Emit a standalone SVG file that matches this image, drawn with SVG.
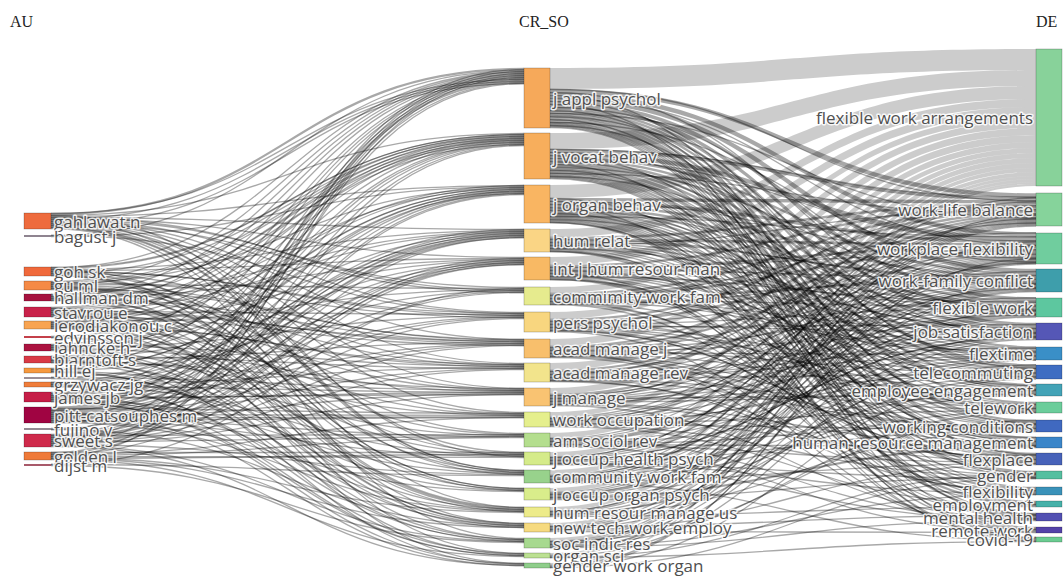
<svg xmlns="http://www.w3.org/2000/svg" width="1064" height="576" viewBox="0 0 1064 576">
<style>
.rb{fill:#000;fill-opacity:.2;stroke:none}
.lk{fill:none;stroke:#000;stroke-opacity:.34}
.w1{stroke-width:1.3}.w2{stroke-width:2.3}.w3{stroke-width:3.3}.w4{stroke-width:4.3}
.nd{stroke:#000;stroke-opacity:.35;stroke-width:.6}
.th{stroke:none}
.lb{font-family:"Open Sans","DejaVu Sans",sans-serif;font-size:17px;fill:#505050;stroke:#fff;stroke-width:3;stroke-opacity:.85;stroke-linejoin:round;paint-order:stroke;dominant-baseline:central}
.r{text-anchor:end}
.hd{font-family:"Liberation Serif","Times New Roman",serif;font-size:16px;fill:#222}
</style>
<rect width="1064" height="576" fill="#fff"/>
<g id="headers">
<text class="hd" x="10" y="27">AU</text>
<text class="hd" x="519" y="27">CR_SO</text>
<text class="hd" x="1036" y="27">DE</text>
</g>
<g id="connectors">
<g class="rb">
<path d="M550,68C793,68 793,49 1036,49L1036,70C793,70 793,89 550,89Z"/>
<path d="M550,133C793,133 793,70 1036,70L1036,86C793,86 793,149 550,149Z"/>
<path d="M550,185C793,185 793,86 1036,86L1036,99C793,99 793,198 550,198Z"/>
<path d="M550,229C793,229 793,99 1036,99L1036,107C793,107 793,237 550,237Z"/>
<path d="M550,257C793,257 793,107 1036,107L1036,115C793,115 793,265 550,265Z"/>
<path d="M550,287C793,287 793,115 1036,115L1036,121C793,121 793,293 550,293Z"/>
<path d="M550,312C793,312 793,121 1036,121L1036,128C793,128 793,319 550,319Z"/>
<path d="M550,339C793,339 793,128 1036,128L1036,135C793,135 793,346 550,346Z"/>
<path d="M550,363C793,363 793,135 1036,135L1036,142C793,142 793,370 550,370Z"/>
<path d="M550,388C793,388 793,142 1036,142L1036,148C793,148 793,394 550,394Z"/>
<path d="M550,412C793,412 793,148 1036,148L1036,153C793,153 793,417 550,417Z"/>
<path d="M550,433C793,433 793,153 1036,153L1036,158C793,158 793,438 550,438Z"/>
<path d="M550,452C793,452 793,158 1036,158L1036,163C793,163 793,457 550,457Z"/>
<path d="M550,470C793,470 793,163 1036,163L1036,168C793,168 793,475 550,475Z"/>
<path d="M550,488C793,488 793,168 1036,168L1036,172C793,172 793,492 550,492Z"/>
<path d="M550,507C793,507 793,172 1036,172L1036,176C793,176 793,511 550,511Z"/>
<path d="M550,523C793,523 793,176 1036,176L1036,179C793,179 793,526 550,526Z"/>
<path d="M550,538C793,538 793,179 1036,179L1036,182C793,182 793,541 550,541Z"/>
<path d="M550,553C793,553 793,182 1036,182L1036,184C793,184 793,555 550,555Z"/>
<path d="M550,563C793,563 793,184 1036,184L1036,186C793,186 793,565 550,565Z"/>
</g>
<g class="lk w2">
<path d="M51,214C288,214 288,69 524,69"/>
<path d="M51,408C288,408 288,81 524,81"/>
</g>
<g class="lk w1">
<path d="M51,215.5C288,215.5 288,133.5 524,133.5"/>
<path d="M51,216.5C288,216.5 288,185.5 524,185.5"/>
<path d="M51,217.5C288,217.5 288,229.5 524,229.5"/>
<path d="M51,218.5C288,218.5 288,257.5 524,257.5"/>
<path d="M51,219.5C288,219.5 288,287.5 524,287.5"/>
<path d="M51,220.5C288,220.5 288,312.5 524,312.5"/>
<path d="M51,221.5C288,221.5 288,339.5 524,339.5"/>
<path d="M51,222.5C288,222.5 288,363.5 524,363.5"/>
<path d="M51,223.5C288,223.5 288,388.5 524,388.5"/>
<path d="M51,224.5C288,224.5 288,412.5 524,412.5"/>
<path d="M51,225.5C288,225.5 288,452.5 524,452.5"/>
<path d="M51,226.5C288,226.5 288,470.5 524,470.5"/>
<path d="M51,227.5C288,227.5 288,507.5 524,507.5"/>
<path d="M51,228.5C288,228.5 288,538.5 524,538.5"/>
<path d="M51,235.5C288,235.5 288,70.5 524,70.5"/>
<path d="M51,236.5C288,236.5 288,186.5 524,186.5"/>
<path d="M51,267.5C288,267.5 288,71.5 524,71.5"/>
<path d="M51,268.5C288,268.5 288,134.5 524,134.5"/>
<path d="M51,269.5C288,269.5 288,230.5 524,230.5"/>
<path d="M51,270.5C288,270.5 288,258.5 524,258.5"/>
<path d="M51,271.5C288,271.5 288,313.5 524,313.5"/>
<path d="M51,272.5C288,272.5 288,364.5 524,364.5"/>
<path d="M51,273.5C288,273.5 288,433.5 524,433.5"/>
<path d="M51,274.5C288,274.5 288,488.5 524,488.5"/>
<path d="M51,275.5C288,275.5 288,523.5 524,523.5"/>
<path d="M51,281.5C288,281.5 288,72.5 524,72.5"/>
<path d="M51,282.5C288,282.5 288,135.5 524,135.5"/>
<path d="M51,283.5C288,283.5 288,187.5 524,187.5"/>
<path d="M51,284.5C288,284.5 288,288.5 524,288.5"/>
<path d="M51,285.5C288,285.5 288,340.5 524,340.5"/>
<path d="M51,286.5C288,286.5 288,389.5 524,389.5"/>
<path d="M51,287.5C288,287.5 288,413.5 524,413.5"/>
<path d="M51,288.5C288,288.5 288,471.5 524,471.5"/>
<path d="M51,289.5C288,289.5 288,553.5 524,553.5"/>
<path d="M51,294.5C288,294.5 288,73.5 524,73.5"/>
<path d="M51,295.5C288,295.5 288,136.5 524,136.5"/>
<path d="M51,296.5C288,296.5 288,231.5 524,231.5"/>
<path d="M51,297.5C288,297.5 288,259.5 524,259.5"/>
<path d="M51,298.5C288,298.5 288,365.5 524,365.5"/>
<path d="M51,299.5C288,299.5 288,453.5 524,453.5"/>
<path d="M51,300.5C288,300.5 288,508.5 524,508.5"/>
<path d="M51,307.5C288,307.5 288,74.5 524,74.5"/>
<path d="M51,308.5C288,308.5 288,137.5 524,137.5"/>
<path d="M51,309.5C288,309.5 288,188.5 524,188.5"/>
<path d="M51,310.5C288,310.5 288,232.5 524,232.5"/>
<path d="M51,311.5C288,311.5 288,314.5 524,314.5"/>
<path d="M51,312.5C288,312.5 288,341.5 524,341.5"/>
<path d="M51,313.5C288,313.5 288,390.5 524,390.5"/>
<path d="M51,314.5C288,314.5 288,434.5 524,434.5"/>
<path d="M51,315.5C288,315.5 288,524.5 524,524.5"/>
<path d="M51,316.5C288,316.5 288,563.5 524,563.5"/>
<path d="M51,321.5C288,321.5 288,75.5 524,75.5"/>
<path d="M51,322.5C288,322.5 288,138.5 524,138.5"/>
<path d="M51,323.5C288,323.5 288,260.5 524,260.5"/>
<path d="M51,324.5C288,324.5 288,289.5 524,289.5"/>
<path d="M51,325.5C288,325.5 288,366.5 524,366.5"/>
<path d="M51,326.5C288,326.5 288,414.5 524,414.5"/>
<path d="M51,327.5C288,327.5 288,489.5 524,489.5"/>
<path d="M51,328.5C288,328.5 288,539.5 524,539.5"/>
<path d="M51,336.5C288,336.5 288,139.5 524,139.5"/>
<path d="M51,337.5C288,337.5 288,454.5 524,454.5"/>
<path d="M51,344.5C288,344.5 288,76.5 524,76.5"/>
<path d="M51,345.5C288,345.5 288,189.5 524,189.5"/>
<path d="M51,346.5C288,346.5 288,233.5 524,233.5"/>
<path d="M51,347.5C288,347.5 288,315.5 524,315.5"/>
<path d="M51,348.5C288,348.5 288,391.5 524,391.5"/>
<path d="M51,349.5C288,349.5 288,472.5 524,472.5"/>
<path d="M51,350.5C288,350.5 288,554.5 524,554.5"/>
<path d="M51,356.5C288,356.5 288,77.5 524,77.5"/>
<path d="M51,357.5C288,357.5 288,140.5 524,140.5"/>
<path d="M51,358.5C288,358.5 288,261.5 524,261.5"/>
<path d="M51,359.5C288,359.5 288,342.5 524,342.5"/>
<path d="M51,360.5C288,360.5 288,415.5 524,415.5"/>
<path d="M51,361.5C288,361.5 288,509.5 524,509.5"/>
<path d="M51,362.5C288,362.5 288,564.5 524,564.5"/>
<path d="M51,368.5C288,368.5 288,78.5 524,78.5"/>
<path d="M51,369.5C288,369.5 288,190.5 524,190.5"/>
<path d="M51,370.5C288,370.5 288,290.5 524,290.5"/>
<path d="M51,371.5C288,371.5 288,435.5 524,435.5"/>
<path d="M51,372.5C288,372.5 288,525.5 524,525.5"/>
<path d="M51,377.5C288,377.5 288,234.5 524,234.5"/>
<path d="M51,378.5C288,378.5 288,490.5 524,490.5"/>
<path d="M51,382.5C288,382.5 288,141.5 524,141.5"/>
<path d="M51,383.5C288,383.5 288,262.5 524,262.5"/>
<path d="M51,384.5C288,384.5 288,367.5 524,367.5"/>
<path d="M51,385.5C288,385.5 288,455.5 524,455.5"/>
<path d="M51,386.5C288,386.5 288,540.5 524,540.5"/>
<path d="M51,392.5C288,392.5 288,79.5 524,79.5"/>
<path d="M51,393.5C288,393.5 288,142.5 524,142.5"/>
<path d="M51,394.5C288,394.5 288,191.5 524,191.5"/>
<path d="M51,395.5C288,395.5 288,235.5 524,235.5"/>
<path d="M51,396.5C288,396.5 288,316.5 524,316.5"/>
<path d="M51,397.5C288,397.5 288,343.5 524,343.5"/>
<path d="M51,398.5C288,398.5 288,392.5 524,392.5"/>
<path d="M51,399.5C288,399.5 288,473.5 524,473.5"/>
<path d="M51,400.5C288,400.5 288,510.5 524,510.5"/>
<path d="M51,401.5C288,401.5 288,555.5 524,555.5"/>
<path d="M51,409.5C288,409.5 288,143.5 524,143.5"/>
<path d="M51,410.5C288,410.5 288,192.5 524,192.5"/>
<path d="M51,411.5C288,411.5 288,236.5 524,236.5"/>
<path d="M51,412.5C288,412.5 288,263.5 524,263.5"/>
<path d="M51,413.5C288,413.5 288,291.5 524,291.5"/>
<path d="M51,414.5C288,414.5 288,317.5 524,317.5"/>
<path d="M51,415.5C288,415.5 288,344.5 524,344.5"/>
<path d="M51,416.5C288,416.5 288,368.5 524,368.5"/>
<path d="M51,417.5C288,417.5 288,393.5 524,393.5"/>
<path d="M51,418.5C288,418.5 288,416.5 524,416.5"/>
<path d="M51,419.5C288,419.5 288,436.5 524,436.5"/>
<path d="M51,420.5C288,420.5 288,456.5 524,456.5"/>
<path d="M51,421.5C288,421.5 288,491.5 524,491.5"/>
<path d="M51,422.5C288,422.5 288,511.5 524,511.5"/>
<path d="M51,428.5C288,428.5 288,193.5 524,193.5"/>
<path d="M51,429.5C288,429.5 288,526.5 524,526.5"/>
<path d="M51,434.5C288,434.5 288,82.5 524,82.5"/>
<path d="M51,435.5C288,435.5 288,144.5 524,144.5"/>
<path d="M51,436.5C288,436.5 288,194.5 524,194.5"/>
<path d="M51,437.5C288,437.5 288,237.5 524,237.5"/>
<path d="M51,438.5C288,438.5 288,264.5 524,264.5"/>
<path d="M51,439.5C288,439.5 288,292.5 524,292.5"/>
<path d="M51,440.5C288,440.5 288,318.5 524,318.5"/>
<path d="M51,441.5C288,441.5 288,345.5 524,345.5"/>
<path d="M51,442.5C288,442.5 288,369.5 524,369.5"/>
<path d="M51,443.5C288,443.5 288,394.5 524,394.5"/>
<path d="M51,444.5C288,444.5 288,474.5 524,474.5"/>
<path d="M51,445.5C288,445.5 288,541.5 524,541.5"/>
<path d="M51,446.5C288,446.5 288,565.5 524,565.5"/>
<path d="M51,452.5C288,452.5 288,83.5 524,83.5"/>
<path d="M51,453.5C288,453.5 288,145.5 524,145.5"/>
<path d="M51,454.5C288,454.5 288,417.5 524,417.5"/>
<path d="M51,455.5C288,455.5 288,437.5 524,437.5"/>
<path d="M51,456.5C288,456.5 288,457.5 524,457.5"/>
<path d="M51,457.5C288,457.5 288,512.5 524,512.5"/>
<path d="M51,458.5C288,458.5 288,527.5 524,527.5"/>
<path d="M51,459.5C288,459.5 288,556.5 524,556.5"/>
<path d="M51,464.5C288,464.5 288,475.5 524,475.5"/>
<path d="M51,465.5C288,465.5 288,542.5 524,542.5"/>
<path d="M51,213.5C288,213.5 288,79.5 524,79.5"/>
<path d="M51,215.5C288,215.5 288,456.5 524,456.5"/>
<path d="M51,217.5C288,217.5 288,290.5 524,290.5"/>
<path d="M51,219.5C288,219.5 288,81.5 524,81.5"/>
<path d="M51,221.5C288,221.5 288,470.5 524,470.5"/>
<path d="M51,223.5C288,223.5 288,292.5 524,292.5"/>
<path d="M51,225.5C288,225.5 288,83.5 524,83.5"/>
<path d="M51,227.5C288,227.5 288,472.5 524,472.5"/>
<path d="M51,235.5C288,235.5 288,313.5 524,313.5"/>
<path d="M51,267.5C288,267.5 288,134.5 524,134.5"/>
<path d="M51,269.5C288,269.5 288,474.5 524,474.5"/>
<path d="M51,271.5C288,271.5 288,315.5 524,315.5"/>
<path d="M51,273.5C288,273.5 288,136.5 524,136.5"/>
<path d="M51,275.5C288,275.5 288,488.5 524,488.5"/>
<path d="M51,282.5C288,282.5 288,317.5 524,317.5"/>
<path d="M51,284.5C288,284.5 288,138.5 524,138.5"/>
<path d="M51,286.5C288,286.5 288,490.5 524,490.5"/>
<path d="M51,288.5C288,288.5 288,339.5 524,339.5"/>
<path d="M51,294.5C288,294.5 288,140.5 524,140.5"/>
<path d="M51,296.5C288,296.5 288,507.5 524,507.5"/>
<path d="M51,298.5C288,298.5 288,341.5 524,341.5"/>
<path d="M51,300.5C288,300.5 288,142.5 524,142.5"/>
<path d="M51,308.5C288,308.5 288,509.5 524,509.5"/>
<path d="M51,310.5C288,310.5 288,343.5 524,343.5"/>
<path d="M51,312.5C288,312.5 288,144.5 524,144.5"/>
<path d="M51,314.5C288,314.5 288,511.5 524,511.5"/>
<path d="M51,316.5C288,316.5 288,345.5 524,345.5"/>
<path d="M51,322.5C288,322.5 288,185.5 524,185.5"/>
<path d="M51,324.5C288,324.5 288,523.5 524,523.5"/>
<path d="M51,326.5C288,326.5 288,364.5 524,364.5"/>
<path d="M51,328.5C288,328.5 288,187.5 524,187.5"/>
<path d="M51,337.5C288,337.5 288,525.5 524,525.5"/>
<path d="M51,345.5C288,345.5 288,366.5 524,366.5"/>
<path d="M51,347.5C288,347.5 288,189.5 524,189.5"/>
<path d="M51,349.5C288,349.5 288,527.5 524,527.5"/>
<path d="M51,356.5C288,356.5 288,368.5 524,368.5"/>
<path d="M51,358.5C288,358.5 288,191.5 524,191.5"/>
<path d="M51,360.5C288,360.5 288,539.5 524,539.5"/>
<path d="M51,362.5C288,362.5 288,388.5 524,388.5"/>
<path d="M51,369.5C288,369.5 288,193.5 524,193.5"/>
<path d="M51,371.5C288,371.5 288,541.5 524,541.5"/>
<path d="M51,377.5C288,377.5 288,390.5 524,390.5"/>
<path d="M51,382.5C288,382.5 288,229.5 524,229.5"/>
<path d="M51,384.5C288,384.5 288,553.5 524,553.5"/>
<path d="M51,386.5C288,386.5 288,392.5 524,392.5"/>
<path d="M51,393.5C288,393.5 288,231.5 524,231.5"/>
<path d="M51,395.5C288,395.5 288,555.5 524,555.5"/>
<path d="M51,397.5C288,397.5 288,394.5 524,394.5"/>
<path d="M51,399.5C288,399.5 288,233.5 524,233.5"/>
<path d="M51,401.5C288,401.5 288,563.5 524,563.5"/>
<path d="M51,408.5C288,408.5 288,413.5 524,413.5"/>
<path d="M51,410.5C288,410.5 288,235.5 524,235.5"/>
<path d="M51,412.5C288,412.5 288,565.5 524,565.5"/>
<path d="M51,414.5C288,414.5 288,415.5 524,415.5"/>
<path d="M51,416.5C288,416.5 288,237.5 524,237.5"/>
<path d="M51,418.5C288,418.5 288,69.5 524,69.5"/>
<path d="M51,420.5C288,420.5 288,417.5 524,417.5"/>
<path d="M51,422.5C288,422.5 288,258.5 524,258.5"/>
<path d="M51,429.5C288,429.5 288,71.5 524,71.5"/>
<path d="M51,435.5C288,435.5 288,434.5 524,434.5"/>
<path d="M51,437.5C288,437.5 288,260.5 524,260.5"/>
<path d="M51,439.5C288,439.5 288,73.5 524,73.5"/>
<path d="M51,441.5C288,441.5 288,436.5 524,436.5"/>
<path d="M51,443.5C288,443.5 288,262.5 524,262.5"/>
<path d="M51,445.5C288,445.5 288,75.5 524,75.5"/>
<path d="M51,452.5C288,452.5 288,452.5 524,452.5"/>
<path d="M51,454.5C288,454.5 288,264.5 524,264.5"/>
<path d="M51,456.5C288,456.5 288,77.5 524,77.5"/>
<path d="M51,458.5C288,458.5 288,454.5 524,454.5"/>
<path d="M51,464.5C288,464.5 288,288.5 524,288.5"/>
</g>
<g class="lk w4">
<path d="M550,91C793,91 793,195.5 1036,195.5"/>
<path d="M550,95C793,95 793,234.5 1036,234.5"/>
<path d="M550,99C793,99 793,271 1036,271"/>
<path d="M550,154C793,154 793,238.5 1036,238.5"/>
</g>
<g class="lk w3">
<path d="M550,102.5C793,102.5 793,299 1036,299"/>
<path d="M550,105.5C793,105.5 793,324.5 1036,324.5"/>
<path d="M550,118.5C793,118.5 793,438.5 1036,438.5"/>
<path d="M550,150.5C793,150.5 793,199 1036,199"/>
<path d="M550,167.5C793,167.5 793,387.5 1036,387.5"/>
<path d="M550,199.5C793,199.5 793,202 1036,202"/>
<path d="M550,202.5C793,202.5 793,242 1036,242"/>
</g>
<g class="lk w2">
<path d="M550,108C793,108 793,347.5 1036,347.5"/>
<path d="M550,110C793,110 793,365.5 1036,365.5"/>
<path d="M550,112C793,112 793,385 1036,385"/>
<path d="M550,114C793,114 793,403 1036,403"/>
<path d="M550,116C793,116 793,421 1036,421"/>
<path d="M550,121C793,121 793,454 1036,454"/>
<path d="M550,157C793,157 793,274 1036,274"/>
<path d="M550,159C793,159 793,301.5 1036,301.5"/>
<path d="M550,161C793,161 793,327 1036,327"/>
<path d="M550,163C793,163 793,349.5 1036,349.5"/>
<path d="M550,165C793,165 793,367.5 1036,367.5"/>
<path d="M550,171C793,171 793,423 1036,423"/>
<path d="M550,174C793,174 793,456 1036,456"/>
<path d="M550,205C793,205 793,276 1036,276"/>
<path d="M550,207C793,207 793,303.5 1036,303.5"/>
<path d="M550,211C793,211 793,369.5 1036,369.5"/>
<path d="M550,219C793,219 793,490 1036,490"/>
<path d="M550,238C793,238 793,204.5 1036,204.5"/>
<path d="M550,240C793,240 793,244.5 1036,244.5"/>
<path d="M550,266C793,266 793,206.5 1036,206.5"/>
<path d="M550,268C793,268 793,246.5 1036,246.5"/>
<path d="M550,294C793,294 793,208.5 1036,208.5"/>
<path d="M550,296C793,296 793,248.5 1036,248.5"/>
<path d="M550,298C793,298 793,280 1036,280"/>
<path d="M550,320C793,320 793,210.5 1036,210.5"/>
<path d="M550,322C793,322 793,250.5 1036,250.5"/>
<path d="M550,347C793,347 793,212.5 1036,212.5"/>
<path d="M550,371C793,371 793,214.5 1036,214.5"/>
<path d="M550,373C793,373 793,253.5 1036,253.5"/>
<path d="M550,395C793,395 793,216.5 1036,216.5"/>
</g>
<g class="lk w1">
<path d="M550,122.5C793,122.5 793,471.5 1036,471.5"/>
<path d="M550,123.5C793,123.5 793,487.5 1036,487.5"/>
<path d="M550,124.5C793,124.5 793,501.5 1036,501.5"/>
<path d="M550,125.5C793,125.5 793,513.5 1036,513.5"/>
<path d="M550,126.5C793,126.5 793,527.5 1036,527.5"/>
<path d="M550,127.5C793,127.5 793,537.5 1036,537.5"/>
<path d="M550,169.5C793,169.5 793,404.5 1036,404.5"/>
<path d="M550,172.5C793,172.5 793,440.5 1036,440.5"/>
<path d="M550,175.5C793,175.5 793,472.5 1036,472.5"/>
<path d="M550,176.5C793,176.5 793,488.5 1036,488.5"/>
<path d="M550,177.5C793,177.5 793,502.5 1036,502.5"/>
<path d="M550,178.5C793,178.5 793,514.5 1036,514.5"/>
<path d="M550,208.5C793,208.5 793,328.5 1036,328.5"/>
<path d="M550,209.5C793,209.5 793,351 1036,351"/>
<path d="M550,212.5C793,212.5 793,389.5 1036,389.5"/>
<path d="M550,213.5C793,213.5 793,405.5 1036,405.5"/>
<path d="M550,214.5C793,214.5 793,424.5 1036,424.5"/>
<path d="M550,215.5C793,215.5 793,441.5 1036,441.5"/>
<path d="M550,216.5C793,216.5 793,457.5 1036,457.5"/>
<path d="M550,217.5C793,217.5 793,473.5 1036,473.5"/>
<path d="M550,220.5C793,220.5 793,503.5 1036,503.5"/>
<path d="M550,221.5C793,221.5 793,528.5 1036,528.5"/>
<path d="M550,222.5C793,222.5 793,538.5 1036,538.5"/>
<path d="M550,241.5C793,241.5 793,277.5 1036,277.5"/>
<path d="M550,242.5C793,242.5 793,305 1036,305"/>
<path d="M550,243.5C793,243.5 793,329.5 1036,329.5"/>
<path d="M550,244.5C793,244.5 793,352 1036,352"/>
<path d="M550,245.5C793,245.5 793,371 1036,371"/>
<path d="M550,246.5C793,246.5 793,406.5 1036,406.5"/>
<path d="M550,247.5C793,247.5 793,425.5 1036,425.5"/>
<path d="M550,248.5C793,248.5 793,458.5 1036,458.5"/>
<path d="M550,249.5C793,249.5 793,515.5 1036,515.5"/>
<path d="M550,250.5C793,250.5 793,529.5 1036,529.5"/>
<path d="M550,251.5C793,251.5 793,539.5 1036,539.5"/>
<path d="M550,269.5C793,269.5 793,278.5 1036,278.5"/>
<path d="M550,270.5C793,270.5 793,306 1036,306"/>
<path d="M550,271.5C793,271.5 793,330.5 1036,330.5"/>
<path d="M550,272.5C793,272.5 793,353 1036,353"/>
<path d="M550,273.5C793,273.5 793,372 1036,372"/>
<path d="M550,274.5C793,274.5 793,390.5 1036,390.5"/>
<path d="M550,275.5C793,275.5 793,426.5 1036,426.5"/>
<path d="M550,276.5C793,276.5 793,442.5 1036,442.5"/>
<path d="M550,277.5C793,277.5 793,491.5 1036,491.5"/>
<path d="M550,278.5C793,278.5 793,504.5 1036,504.5"/>
<path d="M550,279.5C793,279.5 793,516.5 1036,516.5"/>
<path d="M550,299.5C793,299.5 793,307 1036,307"/>
<path d="M550,300.5C793,300.5 793,331.5 1036,331.5"/>
<path d="M550,301.5C793,301.5 793,354 1036,354"/>
<path d="M550,302.5C793,302.5 793,407.5 1036,407.5"/>
<path d="M550,303.5C793,303.5 793,474.5 1036,474.5"/>
<path d="M550,304.5C793,304.5 793,517.5 1036,517.5"/>
<path d="M550,323.5C793,323.5 793,281.5 1036,281.5"/>
<path d="M550,324.5C793,324.5 793,308 1036,308"/>
<path d="M550,325.5C793,325.5 793,332.5 1036,332.5"/>
<path d="M550,326.5C793,326.5 793,373 1036,373"/>
<path d="M550,327.5C793,327.5 793,391.5 1036,391.5"/>
<path d="M550,328.5C793,328.5 793,408.5 1036,408.5"/>
<path d="M550,329.5C793,329.5 793,443.5 1036,443.5"/>
<path d="M550,330.5C793,330.5 793,459.5 1036,459.5"/>
<path d="M550,331.5C793,331.5 793,530.5 1036,530.5"/>
<path d="M550,348.5C793,348.5 793,252 1036,252"/>
<path d="M550,349.5C793,349.5 793,282.5 1036,282.5"/>
<path d="M550,350.5C793,350.5 793,309 1036,309"/>
<path d="M550,351.5C793,351.5 793,333.5 1036,333.5"/>
<path d="M550,352.5C793,352.5 793,355 1036,355"/>
<path d="M550,353.5C793,353.5 793,392.5 1036,392.5"/>
<path d="M550,354.5C793,354.5 793,427.5 1036,427.5"/>
<path d="M550,355.5C793,355.5 793,444.5 1036,444.5"/>
<path d="M550,356.5C793,356.5 793,460.5 1036,460.5"/>
<path d="M550,357.5C793,357.5 793,492.5 1036,492.5"/>
<path d="M550,374.5C793,374.5 793,283.5 1036,283.5"/>
<path d="M550,375.5C793,375.5 793,310 1036,310"/>
<path d="M550,376.5C793,376.5 793,334.5 1036,334.5"/>
<path d="M550,377.5C793,377.5 793,356 1036,356"/>
<path d="M550,378.5C793,378.5 793,374 1036,374"/>
<path d="M550,379.5C793,379.5 793,409.5 1036,409.5"/>
<path d="M550,380.5C793,380.5 793,428.5 1036,428.5"/>
<path d="M550,381.5C793,381.5 793,475.5 1036,475.5"/>
<path d="M550,396.5C793,396.5 793,255 1036,255"/>
<path d="M550,397.5C793,397.5 793,284.5 1036,284.5"/>
<path d="M550,398.5C793,398.5 793,311 1036,311"/>
<path d="M550,399.5C793,399.5 793,335.5 1036,335.5"/>
<path d="M550,400.5C793,400.5 793,357 1036,357"/>
<path d="M550,401.5C793,401.5 793,375 1036,375"/>
<path d="M550,402.5C793,402.5 793,393.5 1036,393.5"/>
<path d="M550,403.5C793,403.5 793,445.5 1036,445.5"/>
<path d="M550,404.5C793,404.5 793,461.5 1036,461.5"/>
<path d="M550,405.5C793,405.5 793,518.5 1036,518.5"/>
<path d="M550,417.5C793,417.5 793,218 1036,218"/>
<path d="M550,418.5C793,418.5 793,256 1036,256"/>
<path d="M550,419.5C793,419.5 793,285.5 1036,285.5"/>
<path d="M550,420.5C793,420.5 793,312 1036,312"/>
<path d="M550,421.5C793,421.5 793,336.5 1036,336.5"/>
<path d="M550,422.5C793,422.5 793,376 1036,376"/>
<path d="M550,423.5C793,423.5 793,410.5 1036,410.5"/>
<path d="M550,424.5C793,424.5 793,429.5 1036,429.5"/>
<path d="M550,425.5C793,425.5 793,476.5 1036,476.5"/>
<path d="M550,426.5C793,426.5 793,505.5 1036,505.5"/>
<path d="M550,438.5C793,438.5 793,219 1036,219"/>
<path d="M550,439.5C793,439.5 793,257 1036,257"/>
<path d="M550,440.5C793,440.5 793,286.5 1036,286.5"/>
<path d="M550,441.5C793,441.5 793,313 1036,313"/>
<path d="M550,442.5C793,442.5 793,358 1036,358"/>
<path d="M550,443.5C793,443.5 793,394.5 1036,394.5"/>
<path d="M550,444.5C793,444.5 793,446.5 1036,446.5"/>
<path d="M550,445.5C793,445.5 793,462.5 1036,462.5"/>
<path d="M550,446.5C793,446.5 793,531.5 1036,531.5"/>
<path d="M550,457.5C793,457.5 793,220 1036,220"/>
<path d="M550,458.5C793,458.5 793,258 1036,258"/>
<path d="M550,459.5C793,459.5 793,287.5 1036,287.5"/>
<path d="M550,460.5C793,460.5 793,337.5 1036,337.5"/>
<path d="M550,461.5C793,461.5 793,377 1036,377"/>
<path d="M550,462.5C793,462.5 793,430.5 1036,430.5"/>
<path d="M550,463.5C793,463.5 793,493.5 1036,493.5"/>
<path d="M550,464.5C793,464.5 793,519.5 1036,519.5"/>
<path d="M550,475.5C793,475.5 793,221 1036,221"/>
<path d="M550,476.5C793,476.5 793,259 1036,259"/>
<path d="M550,477.5C793,477.5 793,288.5 1036,288.5"/>
<path d="M550,478.5C793,478.5 793,314 1036,314"/>
<path d="M550,479.5C793,479.5 793,359 1036,359"/>
<path d="M550,480.5C793,480.5 793,411.5 1036,411.5"/>
<path d="M550,481.5C793,481.5 793,463.5 1036,463.5"/>
<path d="M550,482.5C793,482.5 793,540.5 1036,540.5"/>
<path d="M550,492.5C793,492.5 793,222 1036,222"/>
<path d="M550,493.5C793,493.5 793,260 1036,260"/>
<path d="M550,494.5C793,494.5 793,289.5 1036,289.5"/>
<path d="M550,495.5C793,495.5 793,315 1036,315"/>
<path d="M550,496.5C793,496.5 793,338.5 1036,338.5"/>
<path d="M550,497.5C793,497.5 793,395.5 1036,395.5"/>
<path d="M550,498.5C793,498.5 793,447.5 1036,447.5"/>
<path d="M550,499.5C793,499.5 793,477.5 1036,477.5"/>
<path d="M550,511.5C793,511.5 793,223 1036,223"/>
<path d="M550,512.5C793,512.5 793,261 1036,261"/>
<path d="M550,513.5C793,513.5 793,316 1036,316"/>
<path d="M550,514.5C793,514.5 793,378 1036,378"/>
<path d="M550,515.5C793,515.5 793,431.5 1036,431.5"/>
<path d="M550,516.5C793,516.5 793,506.5 1036,506.5"/>
<path d="M550,526.5C793,526.5 793,224 1036,224"/>
<path d="M550,527.5C793,527.5 793,262 1036,262"/>
<path d="M550,528.5C793,528.5 793,290.5 1036,290.5"/>
<path d="M550,529.5C793,529.5 793,360 1036,360"/>
<path d="M550,530.5C793,530.5 793,464.5 1036,464.5"/>
<path d="M550,531.5C793,531.5 793,532.5 1036,532.5"/>
<path d="M550,541.5C793,541.5 793,225 1036,225"/>
<path d="M550,542.5C793,542.5 793,263 1036,263"/>
<path d="M550,543.5C793,543.5 793,291.5 1036,291.5"/>
<path d="M550,544.5C793,544.5 793,317 1036,317"/>
<path d="M550,545.5C793,545.5 793,412.5 1036,412.5"/>
<path d="M550,546.5C793,546.5 793,494.5 1036,494.5"/>
<path d="M550,547.5C793,547.5 793,520.5 1036,520.5"/>
<path d="M550,555.5C793,555.5 793,226 1036,226"/>
<path d="M550,556.5C793,556.5 793,339.5 1036,339.5"/>
<path d="M550,557.5C793,557.5 793,541.5 1036,541.5"/>
<path d="M550,565.5C793,565.5 793,264 1036,264"/>
<path d="M550,566.5C793,566.5 793,379 1036,379"/>
<path d="M550,567.5C793,567.5 793,478.5 1036,478.5"/>
<path d="M550,89.5C793,89.5 793,201 1036,201"/>
<path d="M550,92.5C793,92.5 793,314 1036,314"/>
<path d="M550,95.5C793,95.5 793,454.5 1036,454.5"/>
<path d="M550,98.5C793,98.5 793,245 1036,245"/>
<path d="M550,101.5C793,101.5 793,368 1036,368"/>
<path d="M550,104.5C793,104.5 793,518.5 1036,518.5"/>
<path d="M550,107.5C793,107.5 793,287.5 1036,287.5"/>
<path d="M550,110.5C793,110.5 793,423.5 1036,423.5"/>
<path d="M550,113.5C793,113.5 793,218 1036,218"/>
<path d="M550,116.5C793,116.5 793,336.5 1036,336.5"/>
<path d="M550,119.5C793,119.5 793,477.5 1036,477.5"/>
<path d="M550,122.5C793,122.5 793,262 1036,262"/>
<path d="M550,125.5C793,125.5 793,389.5 1036,389.5"/>
<path d="M550,149.5C793,149.5 793,197 1036,197"/>
<path d="M550,152.5C793,152.5 793,310 1036,310"/>
<path d="M550,155.5C793,155.5 793,445.5 1036,445.5"/>
<path d="M550,158.5C793,158.5 793,241 1036,241"/>
<path d="M550,161.5C793,161.5 793,360 1036,360"/>
<path d="M550,164.5C793,164.5 793,514.5 1036,514.5"/>
<path d="M550,167.5C793,167.5 793,283.5 1036,283.5"/>
<path d="M550,170.5C793,170.5 793,412.5 1036,412.5"/>
<path d="M550,173.5C793,173.5 793,214 1036,214"/>
<path d="M550,176.5C793,176.5 793,332.5 1036,332.5"/>
<path d="M550,198.5C793,198.5 793,473.5 1036,473.5"/>
<path d="M550,201.5C793,201.5 793,258 1036,258"/>
<path d="M550,204.5C793,204.5 793,385.5 1036,385.5"/>
<path d="M550,207.5C793,207.5 793,541.5 1036,541.5"/>
<path d="M550,210.5C793,210.5 793,306 1036,306"/>
<path d="M550,213.5C793,213.5 793,441.5 1036,441.5"/>
<path d="M550,216.5C793,216.5 793,237 1036,237"/>
<path d="M550,219.5C793,219.5 793,356 1036,356"/>
<path d="M550,222.5C793,222.5 793,504.5 1036,504.5"/>
<path d="M550,239.5C793,239.5 793,279.5 1036,279.5"/>
<path d="M550,242.5C793,242.5 793,408.5 1036,408.5"/>
<path d="M550,245.5C793,245.5 793,210 1036,210"/>
<path d="M550,248.5C793,248.5 793,328.5 1036,328.5"/>
<path d="M550,251.5C793,251.5 793,463.5 1036,463.5"/>
<path d="M550,267.5C793,267.5 793,254 1036,254"/>
<path d="M550,270.5C793,270.5 793,377 1036,377"/>
<path d="M550,273.5C793,273.5 793,537.5 1036,537.5"/>
<path d="M550,276.5C793,276.5 793,302 1036,302"/>
<path d="M550,279.5C793,279.5 793,437.5 1036,437.5"/>
<path d="M550,295.5C793,295.5 793,233 1036,233"/>
<path d="M550,298.5C793,298.5 793,352 1036,352"/>
<path d="M550,301.5C793,301.5 793,494.5 1036,494.5"/>
<path d="M550,304.5C793,304.5 793,275.5 1036,275.5"/>
<path d="M550,321.5C793,321.5 793,404.5 1036,404.5"/>
<path d="M550,324.5C793,324.5 793,206 1036,206"/>
<path d="M550,327.5C793,327.5 793,324.5 1036,324.5"/>
<path d="M550,330.5C793,330.5 793,459.5 1036,459.5"/>
<path d="M550,347.5C793,347.5 793,250 1036,250"/>
<path d="M550,350.5C793,350.5 793,373 1036,373"/>
<path d="M550,353.5C793,353.5 793,529.5 1036,529.5"/>
<path d="M550,356.5C793,356.5 793,298 1036,298"/>
<path d="M550,371.5C793,371.5 793,428.5 1036,428.5"/>
<path d="M550,374.5C793,374.5 793,223 1036,223"/>
<path d="M550,377.5C793,377.5 793,348 1036,348"/>
<path d="M550,380.5C793,380.5 793,490.5 1036,490.5"/>
<path d="M550,395.5C793,395.5 793,271.5 1036,271.5"/>
<path d="M550,398.5C793,398.5 793,394.5 1036,394.5"/>
<path d="M550,401.5C793,401.5 793,202 1036,202"/>
<path d="M550,404.5C793,404.5 793,315 1036,315"/>
<path d="M550,418.5C793,418.5 793,455.5 1036,455.5"/>
<path d="M550,421.5C793,421.5 793,246 1036,246"/>
<path d="M550,424.5C793,424.5 793,369 1036,369"/>
<path d="M550,438.5C793,438.5 793,519.5 1036,519.5"/>
<path d="M550,441.5C793,441.5 793,288.5 1036,288.5"/>
<path d="M550,444.5C793,444.5 793,424.5 1036,424.5"/>
<path d="M550,457.5C793,457.5 793,219 1036,219"/>
<path d="M550,460.5C793,460.5 793,337.5 1036,337.5"/>
<path d="M550,463.5C793,463.5 793,478.5 1036,478.5"/>
<path d="M550,476.5C793,476.5 793,263 1036,263"/>
<path d="M550,479.5C793,479.5 793,390.5 1036,390.5"/>
<path d="M550,482.5C793,482.5 793,198 1036,198"/>
<path d="M550,494.5C793,494.5 793,311 1036,311"/>
<path d="M550,497.5C793,497.5 793,446.5 1036,446.5"/>
<path d="M550,511.5C793,511.5 793,242 1036,242"/>
<path d="M550,514.5C793,514.5 793,365 1036,365"/>
<path d="M550,526.5C793,526.5 793,515.5 1036,515.5"/>
<path d="M550,529.5C793,529.5 793,284.5 1036,284.5"/>
<path d="M550,541.5C793,541.5 793,420.5 1036,420.5"/>
<path d="M550,544.5C793,544.5 793,215 1036,215"/>
<path d="M550,547.5C793,547.5 793,333.5 1036,333.5"/>
<path d="M550,557.5C793,557.5 793,474.5 1036,474.5"/>
<path d="M550,567.5C793,567.5 793,259 1036,259"/>
</g>
</g>
<g id="au-nodes">
<g id="au-gahlawat-n"><rect class="nd" x="24" y="213" width="27" height="16" fill="#EE6B3D"/><text class="lb" x="54" y="221">gahlawat n</text></g>
<g id="au-bagust-j"><rect class="th" x="24" y="235" width="27" height="2" fill="#8F8490"/><text class="lb" x="54" y="236">bagust j</text></g>
<g id="au-goh-sk"><rect class="nd" x="24" y="267" width="27" height="9" fill="#F0693B"/><text class="lb" x="54" y="271.5">goh sk</text></g>
<g id="au-gu-ml"><rect class="nd" x="24" y="281" width="27" height="9" fill="#F58A46"/><text class="lb" x="54" y="285.5">gu ml</text></g>
<g id="au-hallman-dm"><rect class="nd" x="24" y="294" width="27" height="7" fill="#A6123F"/><text class="lb" x="54" y="297.5">hallman dm</text></g>
<g id="au-stavrou-e"><rect class="nd" x="24" y="307" width="27" height="10" fill="#C9224A"/><text class="lb" x="54" y="312">stavrou e</text></g>
<g id="au-ierodiakonou-c"><rect class="nd" x="24" y="321" width="27" height="8" fill="#F8A452"/><text class="lb" x="54" y="325">ierodiakonou c</text></g>
<g id="au-edvinsson-j"><rect class="th" x="24" y="336" width="27" height="2" fill="#C4404A"/><text class="lb" x="54" y="337">edvinsson j</text></g>
<g id="au-jahncke-h"><rect class="nd" x="24" y="344" width="27" height="7" fill="#AC1340"/><text class="lb" x="54" y="347.5">jahncke h</text></g>
<g id="au-bjarntoft-s"><rect class="nd" x="24" y="356" width="27" height="7" fill="#D93A46"/><text class="lb" x="54" y="359.5">bjarntoft s</text></g>
<g id="au-hill-ej"><rect class="nd" x="24" y="368" width="27" height="5" fill="#F6993F"/><text class="lb" x="54" y="370.5">hill ej</text></g>
<g id="au-node-12"><rect class="th" x="24" y="377" width="27" height="2" fill="#9A8F97"/></g>
<g id="au-grzywacz-jg"><rect class="nd" x="24" y="382" width="27" height="5" fill="#F07D3A"/><text class="lb" x="54" y="384.5">grzywacz jg</text></g>
<g id="au-james-jb"><rect class="nd" x="24" y="392" width="27" height="10" fill="#C61E47"/><text class="lb" x="54" y="397">james jb</text></g>
<g id="au-pitt-catsouphes-m"><rect class="nd" x="24" y="407" width="27" height="16" fill="#A00442"/><text class="lb" x="54" y="415">pitt-catsouphes m</text></g>
<g id="au-fujino-y"><rect class="th" x="24" y="428" width="27" height="2" fill="#938A93"/><text class="lb" x="54" y="429">fujino y</text></g>
<g id="au-sweet-s"><rect class="nd" x="24" y="434" width="27" height="13" fill="#CF2A4B"/><text class="lb" x="54" y="440.5">sweet s</text></g>
<g id="au-golden-l"><rect class="nd" x="24" y="452" width="27" height="8" fill="#EF7A39"/><text class="lb" x="54" y="456">golden l</text></g>
<g id="au-dijst-m"><rect class="th" x="24" y="464" width="27" height="2" fill="#A85A6A"/><text class="lb" x="54" y="465">dijst m</text></g>
</g>
<g id="crso-nodes">
<g id="cr-j-appl-psychol"><rect class="nd" x="524" y="68" width="26" height="60" fill="#F6A95A"/><text class="lb" x="553" y="98">j appl psychol</text></g>
<g id="cr-j-vocat-behav"><rect class="nd" x="524" y="133" width="26" height="46" fill="#F7AE5C"/><text class="lb" x="553" y="156">j vocat behav</text></g>
<g id="cr-j-organ-behav"><rect class="nd" x="524" y="185" width="26" height="38" fill="#F9B562"/><text class="lb" x="553" y="204">j organ behav</text></g>
<g id="cr-hum-relat"><rect class="nd" x="524" y="229" width="26" height="23" fill="#FAD585"/><text class="lb" x="553" y="240.5">hum relat</text></g>
<g id="cr-int-j-hum-resour-man"><rect class="nd" x="524" y="257" width="26" height="23" fill="#F8B964"/><text class="lb" x="553" y="268.5">int j hum resour man</text></g>
<g id="cr-commimity-work-fam"><rect class="nd" x="524" y="287" width="26" height="18" fill="#E6EB8E"/><text class="lb" x="553" y="296">commimity work fam</text></g>
<g id="cr-pers-psychol"><rect class="nd" x="524" y="312" width="26" height="20" fill="#F8D67F"/><text class="lb" x="553" y="322">pers psychol</text></g>
<g id="cr-acad-manage-j"><rect class="nd" x="524" y="339" width="26" height="19" fill="#F8BF6C"/><text class="lb" x="553" y="348.5">acad manage j</text></g>
<g id="cr-acad-manage-rev"><rect class="nd" x="524" y="363" width="26" height="19" fill="#F2E48C"/><text class="lb" x="553" y="372.5">acad manage rev</text></g>
<g id="cr-j-manage"><rect class="nd" x="524" y="388" width="26" height="18" fill="#F9C372"/><text class="lb" x="553" y="397">j manage</text></g>
<g id="cr-work-occupation"><rect class="nd" x="524" y="412" width="26" height="15" fill="#E5EF8D"/><text class="lb" x="553" y="419.5">work occupation</text></g>
<g id="cr-am-sociol-rev"><rect class="nd" x="524" y="433" width="26" height="14" fill="#B4DE8E"/><text class="lb" x="553" y="440">am sociol rev</text></g>
<g id="cr-j-occup-health-psych"><rect class="nd" x="524" y="452" width="26" height="13" fill="#D5EB8A"/><text class="lb" x="553" y="458.5">j occup health psych</text></g>
<g id="cr-community-work-fam"><rect class="nd" x="524" y="470" width="26" height="13" fill="#98D28C"/><text class="lb" x="553" y="476.5">community work fam</text></g>
<g id="cr-j-occup-organ-psych"><rect class="nd" x="524" y="488" width="26" height="12" fill="#D9ED8B"/><text class="lb" x="553" y="494">j occup organ psych</text></g>
<g id="cr-hum-resour-manage-us"><rect class="nd" x="524" y="507" width="26" height="10" fill="#EDEB8A"/><text class="lb" x="553" y="512">hum resour manage us</text></g>
<g id="cr-new-tech-work-employ"><rect class="nd" x="524" y="523" width="26" height="9" fill="#F6DA7F"/><text class="lb" x="553" y="527.5">new tech work employ</text></g>
<g id="cr-soc-indic-res"><rect class="nd" x="524" y="538" width="26" height="10" fill="#A7D98F"/><text class="lb" x="553" y="543">soc indic res</text></g>
<g id="cr-organ-sci"><rect class="nd" x="524" y="553" width="26" height="5" fill="#BCE192"/><text class="lb" x="553" y="555.5">organ sci</text></g>
<g id="cr-gender-work-organ"><rect class="nd" x="524" y="563" width="26" height="5" fill="#8FCE8B"/><text class="lb" x="553" y="565.5">gender work organ</text></g>
</g>
<g id="de-nodes">
<g id="de-flexible-work-arrangements"><rect class="nd" x="1036" y="49" width="26" height="137" fill="#88D29A"/><text class="lb r" x="1033" y="117.5">flexible work arrangements</text></g>
<g id="de-work-life-balance"><rect class="nd" x="1036" y="193" width="26" height="33" fill="#86D39B"/><text class="lb r" x="1033" y="209.5">work-life balance</text></g>
<g id="de-workplace-flexibility"><rect class="nd" x="1036" y="233" width="26" height="31" fill="#70CD9E"/><text class="lb r" x="1033" y="248.5">workplace flexibility</text></g>
<g id="de-work-family-conflict"><rect class="nd" x="1036" y="269" width="26" height="23" fill="#3E9EAB"/><text class="lb r" x="1033" y="280.5">work-family conflict</text></g>
<g id="de-flexible-work"><rect class="nd" x="1036" y="298" width="26" height="19" fill="#5DC79F"/><text class="lb r" x="1033" y="307.5">flexible work</text></g>
<g id="de-job-satisfaction"><rect class="nd" x="1036" y="323" width="26" height="17" fill="#5557B6"/><text class="lb r" x="1033" y="331.5">job satisfaction</text></g>
<g id="de-flextime"><rect class="nd" x="1036" y="347" width="26" height="13" fill="#3A8FC7"/><text class="lb r" x="1033" y="353.5">flextime</text></g>
<g id="de-telecommuting"><rect class="nd" x="1036" y="365" width="26" height="14" fill="#3F6DC2"/><text class="lb r" x="1033" y="372">telecommuting</text></g>
<g id="de-employee-engagement"><rect class="nd" x="1036" y="384" width="26" height="12" fill="#43A3B7"/><text class="lb r" x="1033" y="390">employee engagement</text></g>
<g id="de-telework"><rect class="nd" x="1036" y="402" width="26" height="11" fill="#6BCD9B"/><text class="lb r" x="1033" y="407.5">telework</text></g>
<g id="de-working-conditions"><rect class="nd" x="1036" y="420" width="26" height="12" fill="#4069C0"/><text class="lb r" x="1033" y="426">working conditions</text></g>
<g id="de-human-resource-management"><rect class="nd" x="1036" y="437" width="26" height="11" fill="#3B86C9"/><text class="lb r" x="1033" y="442.5">human resource management</text></g>
<g id="de-flexplace"><rect class="nd" x="1036" y="453" width="26" height="12" fill="#4762B9"/><text class="lb r" x="1033" y="459">flexplace</text></g>
<g id="de-gender"><rect class="nd" x="1036" y="471" width="26" height="8" fill="#55BFA0"/><text class="lb r" x="1033" y="475">gender</text></g>
<g id="de-flexibility"><rect class="nd" x="1036" y="487" width="26" height="8" fill="#3A92B9"/><text class="lb r" x="1033" y="491">flexibility</text></g>
<g id="de-employment"><rect class="nd" x="1036" y="501" width="26" height="6" fill="#46B1A9"/><text class="lb r" x="1033" y="504">employment</text></g>
<g id="de-mental-health"><rect class="nd" x="1036" y="513" width="26" height="8" fill="#5250B2"/><text class="lb r" x="1033" y="517">mental health</text></g>
<g id="de-remote-work"><rect class="nd" x="1036" y="527" width="26" height="6" fill="#5342A8"/><text class="lb r" x="1033" y="530">remote work</text></g>
<g id="de-covid-19"><rect class="nd" x="1036" y="537" width="26" height="5" fill="#6BCC91"/><text class="lb r" x="1033" y="539.5">covid-19</text></g>
</g>
</svg>
